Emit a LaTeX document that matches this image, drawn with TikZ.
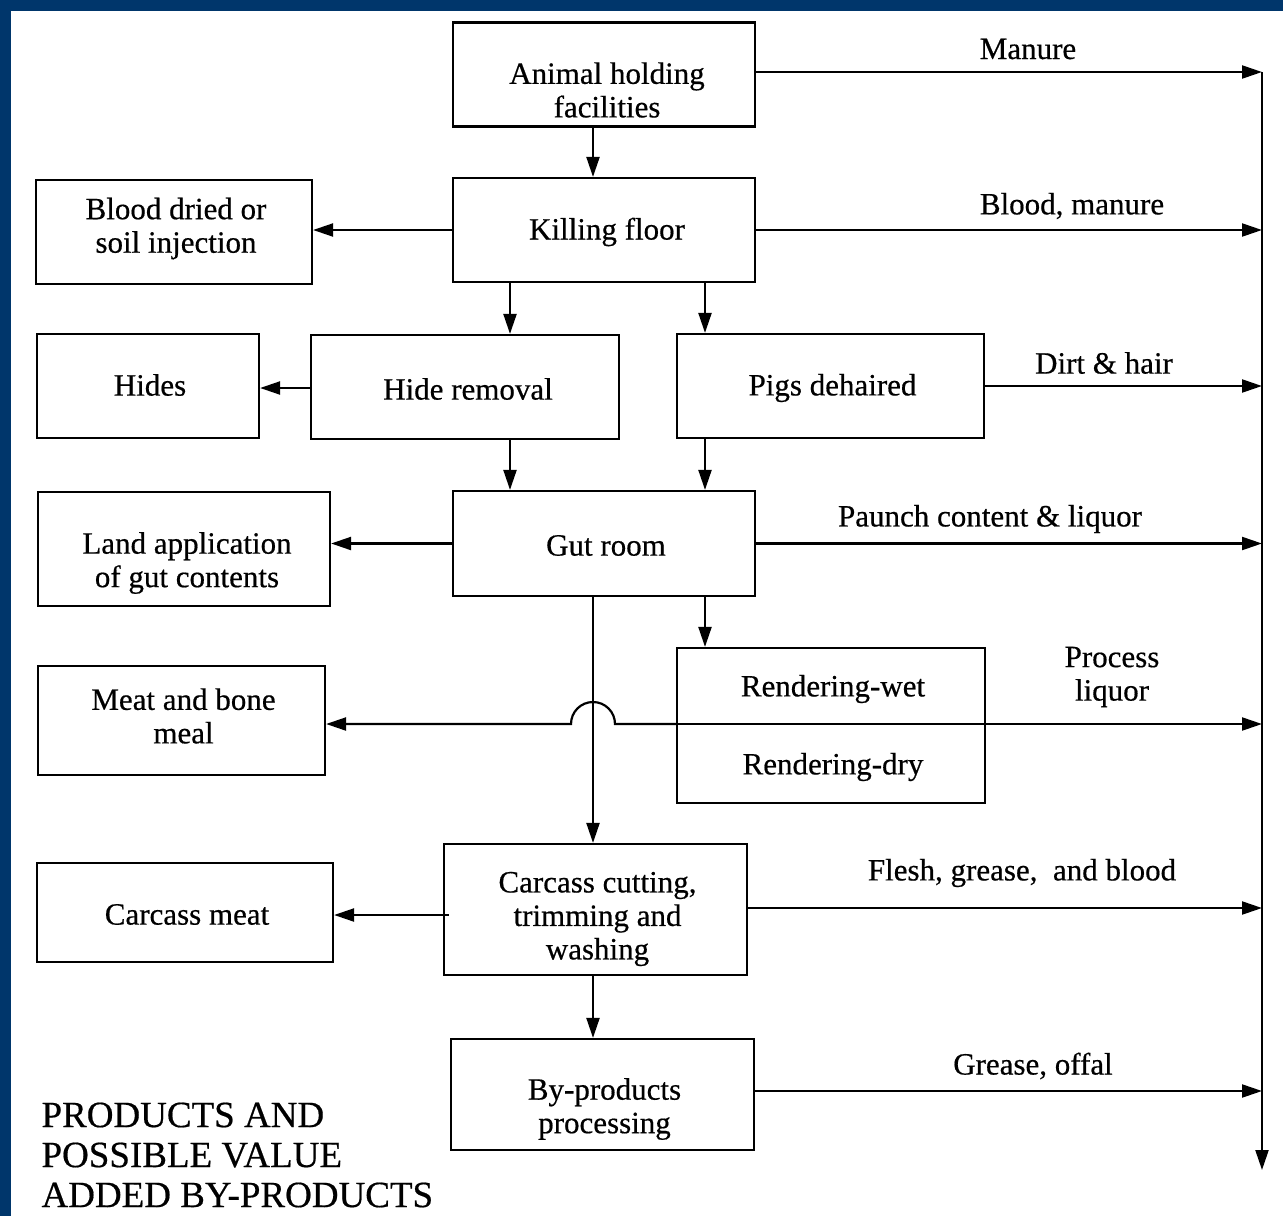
\documentclass[tikz,border=0pt]{standalone}
\usepackage{fontspec}
\setmainfont{Liberation Serif}[FakeBold=0.5]
\usetikzlibrary{arrows.meta,calc}
\definecolor{frameblue}{RGB}{0,54,107}
\tikzset{
  box/.style={draw, line width=2.2pt, inner sep=0pt},
  txt/.style={align=center, font=\fontsize{31}{33.5}\selectfont, yshift=-2pt},
  lbl/.style={align=center, font=\fontsize{31}{33.5}\selectfont},
  arr/.style={line width=2.2pt, -{Triangle[length=20pt,width=13pt]}},
  ln/.style={line width=2.2pt},
}
\begin{document}
\begin{tikzpicture}[x=1pt,y=1pt]
\useasboundingbox (0,0) rectangle (1283,-1216);
\fill[frameblue] (0,0) rectangle (1283,-1216);
\fill[white] (11,-11) rectangle (1283,-1216);

% boxes
\node[box, minimum width=302, minimum height=104,
  label={[txt,yshift=-13.5pt,xshift=3pt]center:Animal holding\\facilities}] (animal) at (604,-74.5) {};
\node[box, minimum width=302, minimum height=104,
  label={[txt,xshift=3pt]center:Killing floor}] (killing) at (604,-230) {};
\node[box, minimum width=276, minimum height=104,
  label={[txt,yshift=5.5pt,xshift=2pt]center:Blood dried or\\soil injection}] (blood) at (174,-232) {};
\node[box, minimum width=222, minimum height=104,
  label={[txt,yshift=3pt,xshift=2pt]center:Hides}] (hides) at (148,-386) {};
\node[box, minimum width=308, minimum height=104,
  label={[txt,xshift=3pt]center:Hide removal}] (hiderem) at (465,-387) {};
\node[box, minimum width=307, minimum height=104,
  label={[txt,xshift=2pt]center:Pigs dehaired}] (pigs) at (830.5,-386) {};
\node[box, minimum width=302, minimum height=105,
  label={[txt,xshift=2pt]center:Gut room}] (gut) at (604,-543.5) {};
\node[box, minimum width=292, minimum height=114,
  label={[txt,yshift=-12pt,xshift=3pt]center:Land application\\of gut contents}] (land) at (184,-549) {};
\node[box, minimum width=287, minimum height=109,
  label={[txt,yshift=6.5pt,xshift=2pt]center:Meat and bone\\meal}] (meat) at (181.5,-720.5) {};
\node[box, minimum width=308, minimum height=155] (rend) at (831,-725.5) {};
\node[txt] (rwet) at (833,-687) {Rendering-wet};
\node[txt] (rdry) at (833,-765) {Rendering-dry};
\node[box, minimum width=303, minimum height=131,
  label={[txt,yshift=-7.5pt,xshift=2pt]center:Carcass cutting,\\trimming and\\washing}] (carcass) at (595.5,-909.5) {};
\node[box, minimum width=296, minimum height=99,
  label={[txt,xshift=2pt]center:Carcass meat}] (cmeat) at (185,-912.5) {};
\node[box, minimum width=303, minimum height=111,
  label={[txt,yshift=-12.5pt,xshift=2pt]center:By-products\\processing}] (byp) at (602.5,-1094.5) {};

% reference coordinates
\coordinate (cA) at (593,0);
\coordinate (cB) at (510,0);
\coordinate (cC) at (705,0);
\coordinate (Rtop) at (1262,-72);
\coordinate (Rbot) at (1262,-1170);
\coordinate (L) at (0,-724);
\coordinate (jumpR) at (615,-724);
\coordinate (hrW) at ([yshift=-1pt]hiderem.west);
\coordinate (ccW) at ([xshift=6pt,yshift=-5.5pt]carcass.west);
\coordinate (anE) at ([yshift=2.5pt]animal.east);
\coordinate (ccE) at ([yshift=1.5pt]carcass.east);
\coordinate (bpE) at ([yshift=3.5pt]byp.east);

% main vertical collector
\draw[arr] (Rtop) -- (Rbot);

% vertical flow
\draw[arr] (animal.south -| cA) -- (killing.north -| cA);
\draw[arr] (killing.south -| cB) -- (hiderem.north -| cB);
\draw[arr] (killing.south -| cC) -- (pigs.north -| cC);
\draw[arr] (hiderem.south -| cB) -- (gut.north -| cB);
\draw[arr] (pigs.south -| cC) -- (gut.north -| cC);
\draw[arr] (gut.south -| cC) -- (rend.north -| cC);
\draw[arr] (gut.south -| cA) -- (carcass.north -| cA);
\draw[arr] (carcass.south -| cA) -- (byp.north -| cA);

% left arrows
\draw[arr] (killing.west) -- (blood.east |- killing.west);
\draw[arr] (hrW) -- (hides.east |- hrW);
\draw[arr] (gut.west) -- (land.east |- gut.west);
\draw[arr] (ccW) -- (cmeat.east |- ccW);

% process liquor line with jump
\draw[ln] (rend.west |- L) -- (rend.east |- L);
\draw[arr] (rend.east |- L) -- (Rtop |- L);
\draw[arr] (rend.west |- L) -- (jumpR) arc[start angle=0, end angle=180, radius=22] -- (meat.east |- L);

% right arrows
\draw[arr] (anE) -- (Rtop |- anE);
\draw[arr] (killing.east) -- (Rtop |- killing.east);
\draw[arr] (pigs.east) -- (Rtop |- pigs.east);
\draw[arr] (gut.east) -- (Rtop |- gut.east);
\draw[arr] (ccE) -- (Rtop |- ccE);
\draw[arr] (bpE) -- (Rtop |- bpE);

% labels
\node[lbl] (lmanure) at (1028,-49) {Manure};
\node[lbl] (lblood) at (1072,-206) {Blood, manure};
\node[lbl] (ldirt) at (1104,-363) {Dirt \& hair};
\node[lbl] (lpaunch) at (990,-519) {Paunch content \& liquor};
\node[lbl] (lproc) at (1112,-677) {Process\\liquor};
\node[lbl] (lflesh) at (1022,-873) {Flesh, grease,\ \ and blood};
\node[lbl] (lgrease) at (1033,-1066) {Grease, offal};

\node[anchor=west, align=left, font=\fontsize{37}{40}\selectfont] (title) at (38,-1155)
  {PRODUCTS AND\\POSSIBLE VALUE\\ADDED BY-PRODUCTS};
\end{tikzpicture}
\end{document}
